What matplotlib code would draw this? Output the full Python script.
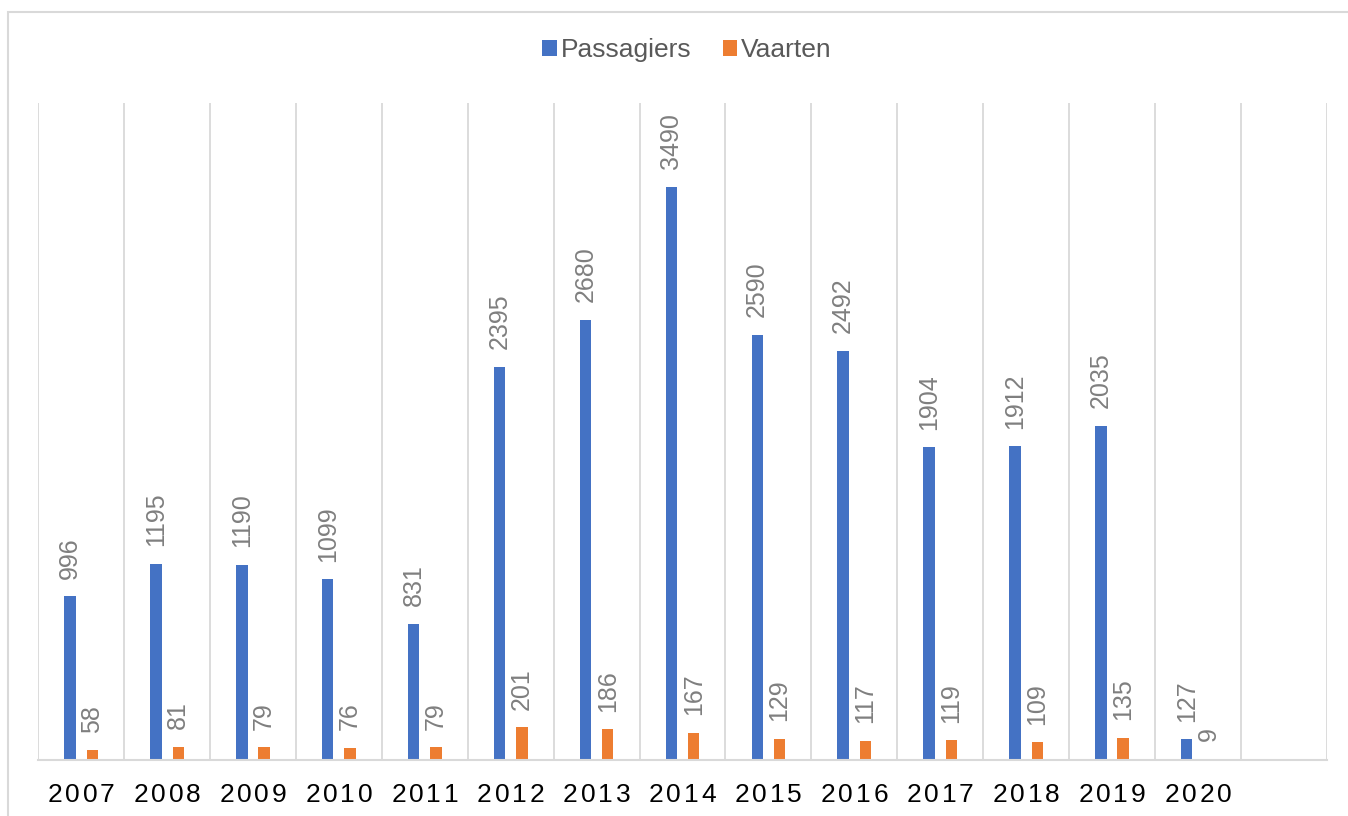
import matplotlib.pyplot as plt
from matplotlib.patches import Rectangle
import numpy as np

plt.rcParams['font.family'] = ['Liberation Sans', 'DejaVu Sans']

jaren = ['2007', '2008', '2009', '2010', '2011', '2012', '2013',
         '2014', '2015', '2016', '2017', '2018', '2019', '2020']
passagiers = [996, 1195, 1190, 1099, 831, 2395, 2680, 3490, 2590, 2492, 1904, 1912, 2035, 127]
vaarten = [58, 81, 79, 76, 79, 201, 186, 167, 129, 117, 119, 109, 135, 9]

blauw = '#4472C4'
oranje = '#ED7D31'
grijs = '#D9D9D9'

fig = plt.figure(figsize=(13.48, 8.16), dpi=100)
ax = fig.add_axes([38.3 / 1348, 56 / 816, (1326.7 - 38.3) / 1348, (760 - 103) / 816])

# lichte rand rond de grafiek
fig.patches.append(Rectangle((8 / 1348, -0.1), 1.2, (816 - 12) / 816 + 0.1,
                             transform=fig.transFigure, fill=False,
                             edgecolor=grijs, linewidth=1.5))

x = np.arange(len(jaren))
w = 0.133
b1 = ax.bar(x - 0.13, passagiers, w, color=blauw, label='Passagiers')
b2 = ax.bar(x + 0.13, vaarten, w, color=oranje, label='Vaarten')

for bars, vals in [(b1, passagiers), (b2, vaarten)]:
    for r, v in zip(bars, vals):
        ax.annotate(str(v), (r.get_x() + r.get_width() / 2, r.get_height()),
                    xytext=(0, 12.5), textcoords='offset points',
                    ha='center', va='bottom', rotation=90,
                    fontsize=18, color='#7F7F7F')

ax.set_xlim(-0.5, 14.5)
ax.set_ylim(0, 4000)
ax.set_yticks([])

# verticale rasterlijnen tussen de categorieen
for g in np.arange(-0.5, 15, 1.0):
    ax.axvline(g, color=grijs, linewidth=1.3, zorder=0)

for s in ['top', 'right', 'left']:
    ax.spines[s].set_visible(False)
ax.spines['bottom'].set_color(grijs)
ax.spines['bottom'].set_linewidth(1.5)

# jaartallen met wat extra letterafstand, teken voor teken
ax.set_xticks(x)
ax.set_xticklabels([])
ax.tick_params(axis='x', length=0)
stap = 12.6  # punten per teken
for i, j in zip(x, jaren):
    for k, c in enumerate(j):
        ax.annotate(c, (i, 0), xycoords=ax.get_xaxis_transform(),
                    xytext=((k - 1.5) * stap, -30.2), textcoords='offset points',
                    ha='center', va='baseline', fontsize=19, color='black')

fig.legend(loc='center', bbox_to_anchor=(687 / 1348, 1 - 50 / 816), ncol=2,
           frameon=False, fontsize=19, labelcolor='#595959',
           handlelength=0.55, handleheight=0.55, handletextpad=0.15,
           columnspacing=1.2)

fig.savefig('out.png', dpi=100)
